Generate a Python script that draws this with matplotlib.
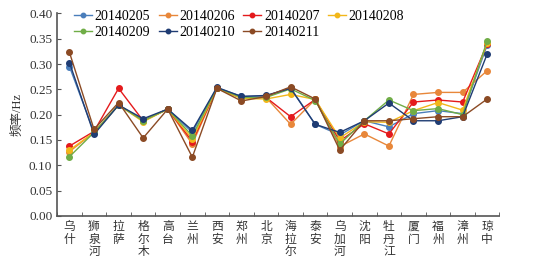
import matplotlib
matplotlib.use("Agg")
import matplotlib.pyplot as plt
from matplotlib.ticker import MultipleLocator, FixedLocator

stations = ["乌什", "狮泉河", "拉萨", "格尔木", "高台", "兰州", "西安", "郑州", "北京",
            "海拉尔", "泰安", "乌加河", "沈阳", "牡丹江", "厦门", "福州", "漳州", "琼中"]

s20140205 = [0.295, 0.165, 0.219, 0.189, 0.211, 0.165, 0.253, 0.236, 0.237, 0.253, 0.181, 0.160, 0.188, 0.176, 0.202, 0.208, 0.202, 0.338]
s20140206 = [0.127, 0.165, 0.219, 0.188, 0.211, 0.142, 0.252, 0.233, 0.234, 0.181, 0.230, 0.137, 0.162, 0.138, 0.240, 0.244, 0.244, 0.287]
s20140207 = [0.138, 0.167, 0.252, 0.188, 0.211, 0.147, 0.252, 0.233, 0.234, 0.196, 0.230, 0.148, 0.182, 0.162, 0.225, 0.229, 0.225, 0.340]
s20140208 = [0.130, 0.165, 0.219, 0.186, 0.211, 0.152, 0.252, 0.232, 0.231, 0.240, 0.230, 0.154, 0.186, 0.185, 0.208, 0.224, 0.209, 0.342]
s20140209 = [0.117, 0.165, 0.219, 0.188, 0.211, 0.158, 0.253, 0.234, 0.234, 0.251, 0.228, 0.142, 0.188, 0.229, 0.208, 0.212, 0.200, 0.346]
s20140210 = [0.303, 0.161, 0.219, 0.192, 0.211, 0.169, 0.254, 0.236, 0.238, 0.252, 0.181, 0.165, 0.188, 0.223, 0.188, 0.188, 0.196, 0.320]
s20140211 = [0.323, 0.171, 0.224, 0.154, 0.211, 0.116, 0.252, 0.227, 0.236, 0.255, 0.231, 0.130, 0.188, 0.188, 0.192, 0.196, 0.196, 0.231]

series = [
    ("20140205", s20140205, "#4a7ebb"),
    ("20140206", s20140206, "#e8873a"),
    ("20140207", s20140207, "#e41a1c"),
    ("20140208", s20140208, "#f2b71a"),
    ("20140209", s20140209, "#70ad47"),
    ("20140210", s20140210, "#1f3c73"),
    ("20140211", s20140211, "#8b4a24"),
]

plt.rcParams['font.family'] = ['Liberation Serif', 'Noto Sans CJK SC']

fig = plt.figure(figsize=(5.55, 2.58), dpi=100)
ax = fig.add_axes([0.103, 0.163, 0.797, 0.785])

x = list(range(len(stations)))
handles = []
for name, vals, col in series:
    h, = ax.plot(x, vals, color=col, lw=1.0, marker='o', ms=4.0, label=name)
    handles.append(h)

ax.set_xlim(-0.5, len(stations) - 0.5)
ax.set_ylim(0, 0.40)
ax.yaxis.set_major_locator(MultipleLocator(0.05))
ax.yaxis.set_major_formatter(matplotlib.ticker.FormatStrFormatter('%.2f'))

ax.set_xticks(x)
ax.set_xticklabels(["\n".join(s) for s in stations], family=['Noto Sans CJK SC'],
                   fontsize=8.5, color='#333333', linespacing=0.95, va='top')
ax.tick_params(axis='x', which='major', length=0, pad=3)
ax.xaxis.set_minor_locator(FixedLocator([i - 0.5 for i in range(len(stations) + 1)]))
ax.tick_params(axis='x', which='minor', direction='in', length=3, color='#555555')
ax.tick_params(axis='y', direction='in', length=3, labelsize=9.5, color='#555555', labelcolor='#333333')

for sp in ['top', 'right']:
    ax.spines[sp].set_visible(False)
for sp in ['left', 'bottom']:
    ax.spines[sp].set_color('#555555')
    ax.spines[sp].set_linewidth(1.2)

ax.set_ylabel("频率/Hz", family=['Liberation Serif', 'Noto Sans CJK SC'], fontsize=9, color='#333333', labelpad=4)

# order so that column-major filling gives row-major layout
order = [0, 4, 1, 5, 2, 6, 3]
ax.legend([handles[i] for i in order], [series[i][0] for i in order],
          ncol=4, loc='upper left', bbox_to_anchor=(0.025, 1.045), frameon=False,
          fontsize=10, handlelength=1.3, handletextpad=0.2, columnspacing=0.6,
          labelspacing=0.25, borderaxespad=0, markerscale=0.8)

fig.savefig("out.png", dpi=100)
